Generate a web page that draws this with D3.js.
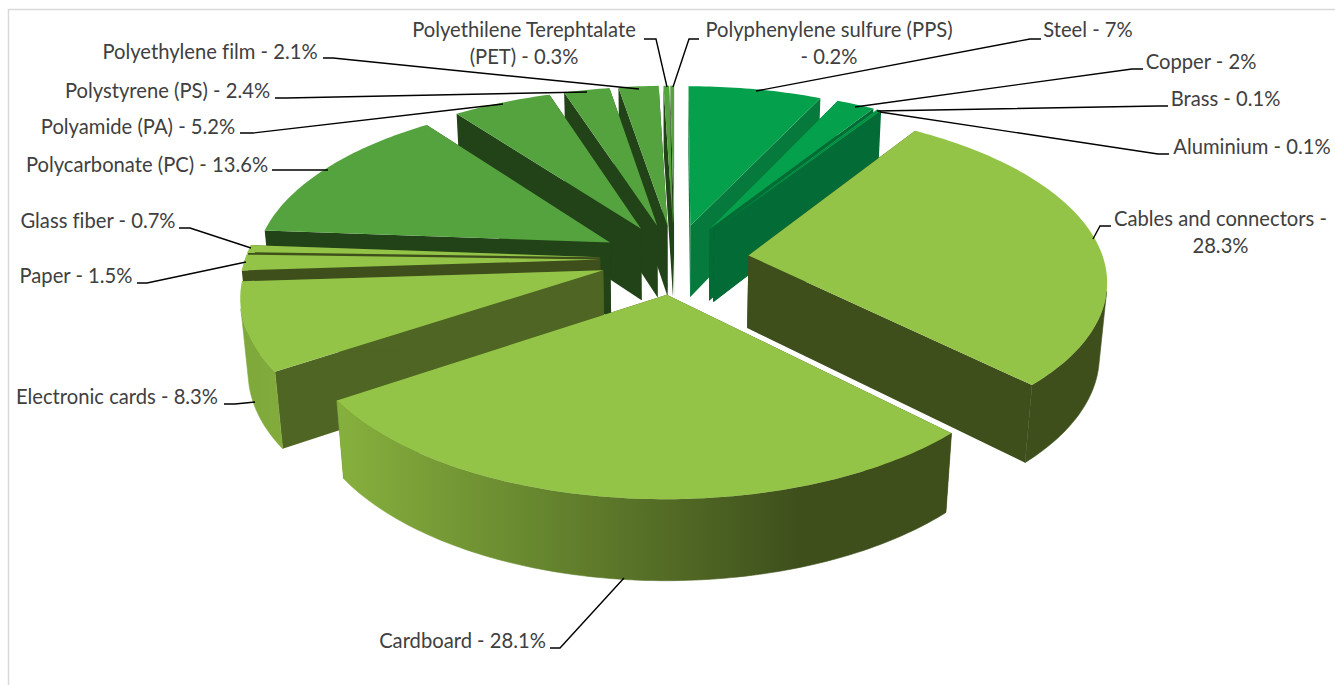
<!DOCTYPE html>
<html>
<head>
<meta charset="utf-8">
<script src="https://cdn.jsdelivr.net/npm/d3@7"></script>
<style>
  html, body { margin: 0; padding: 0; background: #fff; overflow: hidden; }
  text { font-family: Lato, "Noto Sans", sans-serif; font-size: 20.2px; fill: #404040; font-variant-ligatures: none; }
</style>
</head>
<body>
<div id="chart"></div>
<script>
// Data, clockwise from 12 o'clock
const materials = ["Steel", "Copper", "Brass", "Aluminium", "Cables and connectors", "Cardboard",
  "Electronic cards", "Paper", "Glass fiber", "Polycarbonate (PC)", "Polyamide (PA)",
  "Polystyrene (PS)", "Polyethylene film", "Polyethilene Terephtalate (PET)", "Polyphenylene sulfure (PPS)"];
const shares = [7, 2, 0.1, 0.1, 28.3, 28.1, 8.3, 1.5, 0.7, 13.6, 5.2, 2.4, 2.1, 0.3, 0.2];

// Slice colours: top face, side walls
const topColors = ["#05a04b", "#05a04b", "#05a04b", "#05a04b", "#94c447", "#94c447", "#94c447", "#94c447",
  "#94c447", "#55a33f", "#55a33f", "#55a33f", "#55a33f", "#55a33f", "#55a33f"];
const wallColors = ["#067a3c", "#036b35", "#036b35", "#036b35", "#3e4f1c", "#3e4f1c", "#4e6523", "#3e4f1c",
  "#3e4f1c", "#224217", "#224217", "#224217", "#224217", "#224217", "#224217"];

// Label layout: centre x, centre y of first line, line breaks, leader polyline
const labelLayout = [
  { x: 1088, y: 31, lines: ["Steel - 7%"], leader: [[1041, 39], [1030, 39], [756, 91]] },
  { x: 1201, y: 63, lines: ["Copper - 2%"], leader: [[1143, 69], [1132, 69], [855, 107]] },
  { x: 1225.5, y: 100, lines: ["Brass - 0.1%"], leader: [[1168, 106], [1158, 106], [877, 111]] },
  { x: 1252, y: 148, lines: ["Aluminium - 0.1%"], leader: [[1169, 154], [1158, 154], [880, 112]] },
  { x: 1220.5, y: 220, lines: ["Cables and connectors -", "28.3%"], leader: [[1111, 226], [1100, 226], [1093, 239]] },
  { x: 462.5, y: 642, lines: ["Cardboard - 28.1%"], leader: [[550, 648], [560, 648], [624, 578]] },
  { x: 117, y: 398, lines: ["Electronic cards - 8.3%"], leader: [[224, 404], [235, 404], [255, 402]] },
  { x: 76, y: 277, lines: ["Paper - 1.5%"], leader: [[137, 283], [147, 283], [246, 262]] },
  { x: 98, y: 222, lines: ["Glass fiber - 0.7%"], leader: [[179, 228], [190, 228], [251, 248]] },
  { x: 147, y: 166, lines: ["Polycarbonate (PC) - 13.6%"], leader: [[272, 170], [328, 170]] },
  { x: 138, y: 128, lines: ["Polyamide (PA) - 5.2%"], leader: [[240, 133], [253, 133], [503, 104]] },
  { x: 167.5, y: 92, lines: ["Polystyrene (PS) - 2.4%"], leader: [[275, 98], [286, 98], [587, 92]] },
  { x: 210, y: 53, lines: ["Polyethylene film - 2.1%"], leader: [[323, 58], [333, 58], [639, 89]] },
  { x: 524, y: 31, lines: ["Polyethilene Terephtalate", "(PET) - 0.3%"], leader: [[644, 39], [656, 39], [667, 87]] },
  { x: 829, y: 31, lines: ["Polyphenylene sulfure (PPS)", "- 0.2%"], leader: [[699, 39], [689, 39], [673, 87]] }
];

// Size and projection settings
const width = 1335;
const height = 685;
const explode = 0.21;
const perspective = 0.134;
const wallDepth = 0.445;
const wallShrink = 0.018;
const lineHeight = 27;

const svg = d3
  .select("#chart")
  .append("svg")
  .attr("width", width)
  .attr("height", height);

// Chart frame, runs off the right and bottom of the picture
svg
  .append("rect")
  .attr("x", 8.5)
  .attr("y", 9.5)
  .attr("width", width + 20)
  .attr("height", height + 20)
  .attr("fill", "#fff")
  .attr("stroke", "#d9d9d9")
  .attr("stroke-width", 1.5);

// Scales from unit pie space to the screen
const xScale = d3.scaleLinear().domain([-1, 1]).range([674.5 - 355, 674.5 + 355]);
const yScale = d3.scaleLinear().domain([-1, 1]).range([259 - 166.5, 259 + 166.5]);

// Project a point on the top (z=0) or bottom (z=1) of a slice
function project(px, py, z) {
  const w = 1 / (1 - perspective * py + wallShrink * z);
  return [xScale(px * w), yScale((py + wallDepth * z) * w)];
}

// Point on a slice's rim (r=1) or apex (r=0), pushed out along its middle angle
function slicePoint(slice, angle, r, z) {
  const mid = (slice.startAngle + slice.endAngle) / 2;
  const px = r * Math.sin(angle) + explode * Math.sin(mid);
  const py = -r * Math.cos(angle) - explode * Math.cos(mid);
  return project(px, py, z);
}

const pie = d3.pie().sort(null).value((d) => d);
const slices = pie(shares).map((s, i) => ({ ...s, i }));

// Back slices first so the front ones cover them
const drawOrder = slices.slice().sort((a, b) => {
  const distance = (s) => {
    const mid = (s.startAngle + s.endAngle) / 2;
    return Math.min(mid, 2 * Math.PI - mid);
  };
  return distance(a) - distance(b);
});

const path = d3.line();

// Shading of the light green outer walls, by screen x
const defs = svg.append("defs");
const rimGradient = defs
  .append("linearGradient")
  .attr("id", "rimLight")
  .attr("gradientUnits", "userSpaceOnUse")
  .attr("x1", 240)
  .attr("x2", 800)
  .attr("y1", 0)
  .attr("y2", 0);
rimGradient.append("stop").attr("offset", 0).attr("stop-color", "#7fa83b");
rimGradient.append("stop").attr("offset", 0.18).attr("stop-color", "#86b03d");
rimGradient.append("stop").attr("offset", 1).attr("stop-color", "#3e4f1c");

const pieGroup = svg.append("g");

function arcAngles(slice) {
  const steps = Math.max(2, Math.ceil(((slice.endAngle - slice.startAngle) * 180) / Math.PI));
  return d3.range(steps + 1).map((k) => slice.startAngle + ((slice.endAngle - slice.startAngle) * k) / steps);
}

drawOrder.forEach((slice) => {
  const g = pieGroup.append("g");
  const wall = wallColors[slice.i];
  const angles = arcAngles(slice);

  // Radial walls
  [slice.startAngle, slice.endAngle].forEach((a) => {
    g.append("path")
      .attr("d", path([
        slicePoint(slice, a, 0, 0),
        slicePoint(slice, a, 1, 0),
        slicePoint(slice, a, 1, 1),
        slicePoint(slice, a, 0, 1)
      ]) + "Z")
      .attr("fill", wall);
  });

  // Outer wall, only the steps that face the viewer
  let run = [];
  const rimFill = topColors[slice.i] === "#94c447" ? "url(#rimLight)" : wall;
  const flush = () => {
    if (run.length < 2) return;
    const top = run.map((a) => slicePoint(slice, a, 1, 0));
    const bottom = run.map((a) => slicePoint(slice, a, 1, 1)).reverse();
    g.append("path")
      .attr("d", path(top.concat(bottom)) + "Z")
      .attr("fill", rimFill)
      .attr("stroke", rimFill) // hides the seam against the radial wall
      .attr("stroke-width", 0.6);
  };
  for (let k = 0; k < angles.length - 1; k++) {
    const quad = [
      slicePoint(slice, angles[k], 1, 0),
      slicePoint(slice, angles[k + 1], 1, 0),
      slicePoint(slice, angles[k + 1], 1, 1),
      slicePoint(slice, angles[k], 1, 1)
    ];
    if (d3.polygonArea(quad) > 0) {
      if (run.length === 0) run.push(angles[k]);
      run.push(angles[k + 1]);
    } else {
      flush();
      run = [];
    }
  }
  flush();

  // Top face
  const topFace = [slicePoint(slice, 0, 0, 0)].concat(angles.map((a) => slicePoint(slice, a, 1, 0)));
  g.append("path").attr("d", path(topFace) + "Z").attr("fill", topColors[slice.i]);
});

// Leader lines
svg
  .append("g")
  .selectAll("path")
  .data(labelLayout)
  .join("path")
  .attr("d", (d) => path(d.leader))
  .attr("fill", "none")
  .attr("stroke", "#000")
  .attr("stroke-width", 1.4);

// Labels
const labels = svg
  .append("g")
  .selectAll("text")
  .data(labelLayout)
  .join("text")
  .attr("text-anchor", "middle")
  .attr("y", (d) => d.y + 6);

labels
  .selectAll("tspan")
  .data((d) => d.lines.map((line, i) => ({ line, i, x: d.x })))
  .join("tspan")
  .attr("x", (d) => d.x)
  .attr("dy", (d) => (d.i === 0 ? 0 : lineHeight))
  .text((d) => d.line);
</script>
</body>
</html>
